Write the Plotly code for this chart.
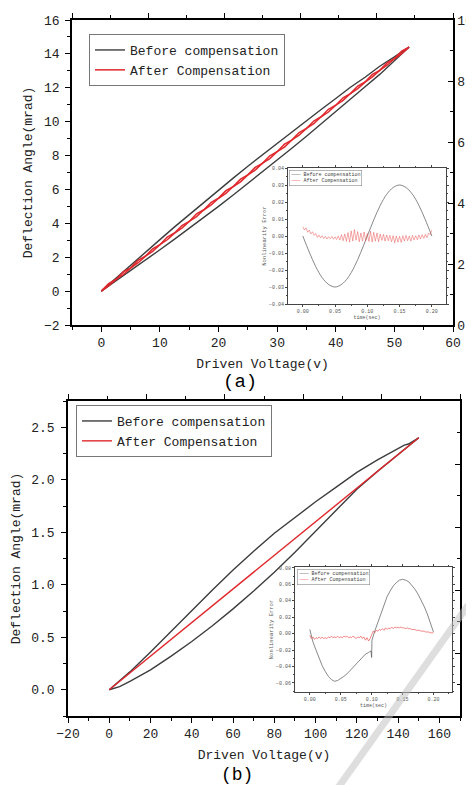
import plotly.graph_objects as go

# the page puts the figure 8 px in from the window's top-left corner
OFF = 8
W, H = 474 - OFF, 785 - OFF
MONO = "Liberation Mono"
BLACK = "#3d3d3d"
RED = "#e0282d"

# ---------------- panel (a): 0 - 52.5 V ----------------
a_volt = [0, 2.5, 5, 7.5, 10, 12.5, 15, 17.5, 20, 22.5, 25, 27.5,
          30, 32.5, 35, 37.5, 40, 42.5, 45, 47.5, 50, 52.5]
# before compensation: upper (return) branch and lower (rising) branch
a_before_upper = [0, 0.77, 1.52, 2.29, 3.04, 3.79, 4.52, 5.25, 5.97, 6.67, 7.37, 8.05,
                  8.73, 9.39, 10.06, 10.72, 11.37, 12.03, 12.62, 13.27, 13.82, 14.4]
a_before_lower = [0, 0.60, 1.22, 1.83, 2.44, 3.07, 3.70, 4.35, 5.00, 5.67, 6.35, 7.03,
                  7.73, 8.43, 9.14, 9.86, 10.57, 11.31, 12.06, 12.79, 13.60, 14.4]
# after compensation, sampled every 1.25 V
a_after_up = [0, 0.30, 0.69, 0.98, 1.36, 1.66, 2.05, 2.35, 2.74, 3.03, 3.42,
              3.72, 4.11, 4.40, 4.80, 5.09, 5.48, 5.77, 6.17, 6.45, 6.86, 7.14,
              7.55, 7.82, 8.23, 8.50, 8.92, 9.20, 9.60, 9.88, 10.29, 10.57, 10.97,
              11.26, 11.66, 11.95, 12.33, 12.64, 13.03, 13.33, 13.71, 14.02, 14.4]
a_after_down = [0, 0.44, 0.69, 1.13, 1.37, 1.81, 2.06, 2.50, 2.74, 3.19, 3.43,
                3.87, 4.11, 4.56, 4.80, 5.24, 5.49, 5.93, 6.17, 6.61, 6.86, 7.30,
                7.54, 7.99, 8.23, 8.67, 8.91, 9.36, 9.60, 10.04, 10.29, 10.73, 10.97,
                11.41, 11.66, 12.10, 12.34, 12.79, 13.03, 13.47, 13.72, 14.16, 14.4]

# inset (a): nonlinearity error vs time
ta_before = [0, -0.0095, -0.018, -0.0245, -0.0285, -0.030, -0.0285, -0.0245, -0.018, -0.0095,
             0.0, 0.0095, 0.018, 0.0245, 0.0285, 0.030, 0.0285, 0.0245, 0.018, 0.0095, 0.0]
ta_after = [0.0055, 0.0035, 0.0048, 0.0022, 0.0035, 0.0012, 0.0025, 0.0003,
            0.0015, -0.0008, 0.0006, -0.0012, 0.0002, -0.0015, -0.0002, -0.0018,
            -0.0004, -0.0016, -0.0003, -0.0019, -0.0005, -0.0021, 0.0000, -0.0024,
            0.0008, -0.0028, 0.0012, -0.0032, 0.0020, -0.0036, 0.0030, -0.0030,
            0.0038, -0.0025, 0.0026, -0.0034, 0.0018, -0.0030, 0.0024, -0.0028,
            0.0015, -0.0032, 0.0028, -0.0036, 0.0022, -0.0030, 0.0018, -0.0034,
            0.0012, -0.0026, 0.0010, -0.0030, 0.0006, -0.0028, 0.0004, -0.0034,
            0.0002, -0.0040, 0.0000, -0.0036, -0.0002, -0.0038, 0.0002, -0.0030,
            0.0004, -0.0028, 0.0000, -0.0030, 0.0004, -0.0024, 0.0002, -0.0022,
            0.0006, -0.0018, 0.0008, -0.0014, 0.0010, -0.0010, 0.0018, 0.0008,
            0.0035]

# ---------------- panel (b): 0 - 150 V ----------------
b_volt = [0, 5, 10, 20, 30, 40, 50, 60, 70, 80, 90, 100, 110, 120, 130, 140, 143, 145, 150]
b_before_upper = [0, 0.085, 0.17, 0.36, 0.56, 0.75, 0.95, 1.14, 1.32, 1.49, 1.64, 1.79,
                  1.93, 2.07, 2.19, 2.30, 2.33, 2.34, 2.40]
b_before_lower = [0, 0.03, 0.08, 0.19, 0.32, 0.46, 0.61, 0.77, 0.94, 1.12, 1.31, 1.51,
                  1.71, 1.91, 2.08, 2.24, 2.29, 2.32, 2.40]
b_after = [0, 0.08, 0.16, 0.32, 0.48, 0.64, 0.80, 0.96, 1.12, 1.28, 1.44, 1.60,
           1.76, 1.92, 2.08, 2.24, 2.29, 2.32, 2.40]

# inset (b)
tb_before_t = [0, 0.005, 0.01, 0.015, 0.02, 0.025, 0.03, 0.035, 0.04, 0.045, 0.05,
               0.055, 0.06, 0.065, 0.07, 0.075, 0.08, 0.085, 0.09, 0.095, 0.099, 0.1,
               0.1005, 0.105, 0.11, 0.115, 0.12, 0.125, 0.13, 0.135, 0.14, 0.145, 0.15,
               0.155, 0.16, 0.165, 0.17, 0.175, 0.18, 0.185, 0.19, 0.195, 0.2]
tb_before = [0.005, -0.010, -0.020, -0.030, -0.039, -0.046, -0.052, -0.056, -0.058, -0.057, -0.055,
             -0.052, -0.049, -0.045, -0.041, -0.037, -0.033, -0.029, -0.025, -0.023, -0.021, -0.029,
             -0.008, 0.003, 0.014, 0.025, 0.036, 0.045, 0.052, 0.058, 0.062, 0.065, 0.066,
             0.065, 0.063, 0.059, 0.054, 0.048, 0.041, 0.033, 0.024, 0.013, 0.002]
tb_after = [-0.002, -0.006, -0.004, -0.007, -0.005, -0.006, -0.004, -0.006,
            -0.004, -0.006, -0.005, -0.006, -0.004, -0.005, -0.003, -0.005,
            -0.004, -0.005, -0.003, -0.005, -0.004, -0.005, -0.003, -0.004,
            -0.003, -0.005, -0.004, -0.005, -0.003, -0.004, -0.006, -0.004,
            -0.005, -0.003, -0.006, -0.004, -0.008, -0.005, -0.009, -0.006,
            -0.002, 0.003, 0.001, 0.004, 0.003, 0.005, 0.004, 0.006,
            0.004, 0.007, 0.005, 0.007, 0.006, 0.008, 0.006, 0.008,
            0.007, 0.008, 0.007, 0.008, 0.007, 0.007, 0.006, 0.007,
            0.006, 0.006, 0.005, 0.005, 0.005, 0.004, 0.004, 0.004,
            0.003, 0.003, 0.003, 0.002, 0.002, 0.002, 0.001, 0.001,
            0.001]


# window pixels -> paper fractions
def sx(p):
    return (p - OFF) / W


def sy(p):
    return 1 - (p - OFF) / H


def px_x(a, b):
    return [sx(a), sx(b)]


def px_y(top, bottom):
    return [sy(bottom), sy(top)]


fig = go.Figure()

# main (a)
fig.add_trace(go.Scatter(x=a_volt, y=a_before_lower, mode='lines', name='Before compensation',
                         line=dict(color=BLACK, width=1.4), legend='legend', legendgroup='ab'))
fig.add_trace(go.Scatter(x=a_volt, y=a_before_upper, mode='lines', showlegend=False,
                         line=dict(color=BLACK, width=1.4), legendgroup='ab'))
fig.add_trace(go.Scatter(x0=0, dx=1.25, y=a_after_up, mode='lines', name='After Compensation',
                         line=dict(color=RED, width=1.5), legend='legend', legendgroup='aa'))
fig.add_trace(go.Scatter(x0=0, dx=1.25, y=a_after_down, mode='lines', showlegend=False,
                         line=dict(color=RED, width=1.5), legendgroup='aa'))
# empty traces so the secondary (top / right) axes get their own subplots
fig.add_trace(go.Scatter(x=[], y=[], xaxis='x', yaxis='y2', showlegend=False, hoverinfo='skip'))
fig.add_trace(go.Scatter(x=[], y=[], xaxis='x2', yaxis='y', showlegend=False, hoverinfo='skip'))

# inset (a)
fig.add_trace(go.Scatter(x0=0, dx=0.01, y=ta_before, mode='lines', line_shape='spline', showlegend=False,
                         line=dict(color='#555555', width=0.7), xaxis='x3', yaxis='y3'))
fig.add_trace(go.Scatter(x0=0, dx=0.0025, y=ta_after, mode='lines', showlegend=False,
                         line=dict(color='rgba(235,80,80,0.7)', width=0.7), xaxis='x3', yaxis='y3'))

# main (b)
fig.add_trace(go.Scatter(x=b_volt, y=b_before_lower, mode='lines', name='Before compensation',
                         line=dict(color=BLACK, width=1.4), xaxis='x4', yaxis='y4',
                         legend='legend2', legendgroup='bb'))
fig.add_trace(go.Scatter(x=b_volt, y=b_before_upper, mode='lines', showlegend=False,
                         line=dict(color=BLACK, width=1.4), xaxis='x4', yaxis='y4', legendgroup='bb'))
fig.add_trace(go.Scatter(x=b_volt, y=b_after, mode='lines', name='After Compensation',
                         line=dict(color=RED, width=1.4), xaxis='x4', yaxis='y4',
                         legend='legend2', legendgroup='ba'))
fig.add_trace(go.Scatter(x=[], y=[], xaxis='x4', yaxis='y5', showlegend=False, hoverinfo='skip'))
fig.add_trace(go.Scatter(x=[], y=[], xaxis='x5', yaxis='y4', showlegend=False, hoverinfo='skip'))

# inset (b)
fig.add_trace(go.Scatter(x=tb_before_t, y=tb_before, mode='lines', showlegend=False,
                         line=dict(color='#555555', width=0.7), xaxis='x6', yaxis='y6'))
fig.add_trace(go.Scatter(x0=0, dx=0.0025, y=tb_after, mode='lines', showlegend=False,
                         line=dict(color='rgba(235,70,70,0.8)', width=0.8), xaxis='x6', yaxis='y6'))

main_font = dict(family=MONO, size=13, color='#222222')
small_font = dict(family=MONO, size=5, color='#555555')

base_axis = dict(showline=True, linecolor='black', linewidth=1.5, showgrid=False, zeroline=False,
                 automargin=False, ticks='outside', ticklen=5, tickwidth=1.3, tickcolor='black',
                 tickfont=main_font, ticklabeloverflow='allow')
inset_axis = dict(showline=True, linecolor='#444444', linewidth=0.8, showgrid=False, zeroline=False,
                  automargin=False, mirror='ticks', ticks='outside', ticklen=2, tickwidth=0.6,
                  tickcolor='#444444', tickfont=small_font, tickformat='.2f')

fig.update_layout(
    width=W, height=H, autosize=False,
    margin=dict(l=0, r=0, t=0, b=0, autoexpand=False),
    paper_bgcolor='white', plot_bgcolor='white',
    font=main_font,
    # panel (a)
    xaxis=dict(base_axis, domain=px_x(72, 453), anchor='y', range=[-5, 60], dtick=10,
               minor=dict(dtick=5, ticklen=3, ticks='outside', tickcolor='black'),
               title=dict(text='Driven Voltage(v)', font=main_font, standoff=9)),
    yaxis=dict(base_axis, domain=px_y(20, 325), anchor='x', range=[-2, 16], dtick=2,
               ticklabelstandoff=3,
               minor=dict(dtick=1, ticklen=3, ticks='outside', tickcolor='black'),
               title=dict(text='Deflection Angle(mrad)', font=main_font, standoff=8)),
    xaxis2=dict(base_axis, overlaying='x', side='top', anchor='y', range=[0, 10], dtick=2,
                showticklabels=False, minor=dict(dtick=1, ticklen=3, ticks='outside', tickcolor='black')),
    yaxis2=dict(base_axis, overlaying='y', side='right', anchor='x', range=[0, 10], dtick=2,
                ticks='inside', showticklabels=True, ticklabelposition='outside',
                minor=dict(dtick=1, ticklen=3, ticks='inside', tickcolor='black')),
    # inset (a)
    xaxis3=dict(inset_axis, domain=px_x(288, 446), anchor='y3', range=[-0.023, 0.222], dtick=0.05,
                minor=dict(dtick=0.025, ticklen=1.5, ticks='outside'),
                title=dict(text='time(sec)', font=small_font, standoff=1)),
    yaxis3=dict(inset_axis, domain=px_y(168, 304), anchor='x3', range=[-0.04, 0.04], dtick=0.01,
                minor=dict(dtick=0.005, ticklen=1.5, ticks='outside'),
                title=dict(text='Nonlinearity Error', font=dict(family=MONO, size=5.5, color='#555555'),
                           standoff=2)),
    # panel (b)
    xaxis4=dict(base_axis, domain=px_x(68, 460), anchor='y4', range=[-20, 170], dtick=20,
                minor=dict(dtick=10, ticklen=3, ticks='outside', tickcolor='black'),
                title=dict(text='Driven Voltage(v)', font=main_font, standoff=9)),
    yaxis4=dict(base_axis, domain=px_y(401, 716), anchor='x4', range=[-0.25, 2.75], dtick=0.5,
                tickformat='.1f', ticklabelstandoff=4,
                minor=dict(dtick=0.25, ticklen=3, ticks='outside', tickcolor='black'),
                title=dict(text='Deflection Angle(mrad)', font=main_font, standoff=8)),
    xaxis5=dict(base_axis, overlaying='x4', side='top', anchor='y4', range=[0, 10], dtick=2,
                showticklabels=False, minor=dict(dtick=1, ticklen=3, ticks='outside', tickcolor='black')),
    yaxis5=dict(base_axis, overlaying='y4', side='right', anchor='x4', range=[0, 10], dtick=2,
                ticks='inside', showticklabels=False,
                minor=dict(dtick=1, ticklen=3, ticks='inside', tickcolor='black')),
    # inset (b)
    xaxis6=dict(inset_axis, domain=px_x(295, 452), anchor='y6', range=[-0.024, 0.23], dtick=0.05,
                minor=dict(dtick=0.025, ticklen=1.5, ticks='outside'),
                title=dict(text='time(sec)', font=small_font, standoff=1)),
    yaxis6=dict(inset_axis, domain=px_y(567, 692), anchor='x6', range=[-0.071, 0.081], dtick=0.02,
                minor=dict(dtick=0.01, ticklen=1.5, ticks='outside'),
                title=dict(text='Nonlinearity Error', font=dict(family=MONO, size=5.5, color='#555555'),
                           standoff=2)),
    legend=dict(x=sx(89), y=sy(34), xanchor='left', yanchor='top', bgcolor='white',
                bordercolor='#777777', borderwidth=1, font=main_font, tracegroupgap=0, itemwidth=30),
    legend2=dict(x=sx(76), y=sy(405), xanchor='left', yanchor='top', bgcolor='white',
                 bordercolor='#777777', borderwidth=1, font=main_font, tracegroupgap=0, itemwidth=30),
)

# small legends of the two insets
inset_legend = ("<span style='color:#555555'>———</span> Before compensation<br>"
                "<span style='color:#eb4646'>———</span> After Compensation")
for xp, yp in [(289, 170), (297, 569)]:
    fig.add_annotation(x=sx(xp), y=sy(yp), xref='paper', yref='paper', xanchor='left', yanchor='top',
                       text=inset_legend, showarrow=False, align='left', bgcolor='white',
                       bordercolor='#888888', borderwidth=0.6, borderpad=1,
                       font=dict(family=MONO, size=5, color='#444444'))

# panel letters
fig.add_annotation(x=sx(240), y=sy(382), xref='paper', yref='paper', xanchor='center', yanchor='middle',
                   text='(a)', showarrow=False, font=dict(family=MONO, size=19, color='black'))
fig.add_annotation(x=sx(237), y=sy(775), xref='paper', yref='paper', xanchor='center', yanchor='middle',
                   text='(b)', showarrow=False, font=dict(family=MONO, size=18, color='black'))

# light diagonal watermark stripe over panel (b)
fig.add_shape(type='line', xref='paper', yref='paper', x0=sx(484), y0=sy(583), x1=sx(335), y1=sy(792),
              line=dict(color='rgba(190,190,190,0.5)', width=7), layer='above')

fig.write_html("out.html")
